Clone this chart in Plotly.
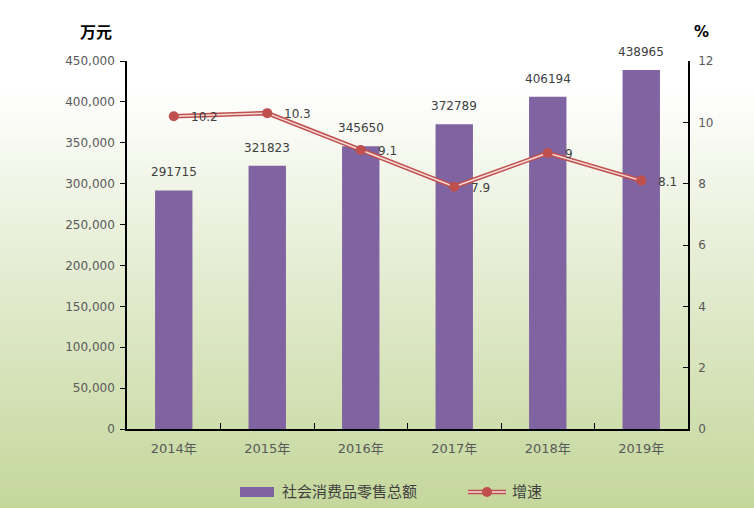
import base64
import plotly.graph_objects as go

years = ["2014年", "2015年", "2016年", "2017年", "2018年", "2019年"]
sales = [291715, 321823, 345650, 372789, 406194, 438965]
growth = [10.2, 10.3, 9.1, 7.9, 9, 8.1]
sales_name = "社会消费品零售总额"
growth_name = "增速"

W, H = 754, 508
ML, MR, MT, MB = 127, 66, 61, 79
PW, PH = W - ML - MR, H - MT - MB

FONT = "DejaVu Sans, Noto Sans CJK SC, sans-serif"
TICK_COLOR = "#595959"
BAR_COLOR = "#8064A2"
LINE_COLOR = "#C0504D"
INNER_COLOR = "#F4DEDD"


def px(x):
    return (x - ML) / PW


def py(y):
    return 1 - (y - MT) / PH


svg = (
    '<svg xmlns="http://www.w3.org/2000/svg" width="754" height="508" preserveAspectRatio="none">'
    '<defs><linearGradient id="g" x1="0" y1="0" x2="0" y2="1">'
    '<stop offset="0" stop-color="#FFFFFF"/>'
    '<stop offset="0.17" stop-color="#FFFFFF"/>'
    '<stop offset="0.6" stop-color="#E0E9CA"/>'
    '<stop offset="1" stop-color="#C4D79B"/>'
    '</linearGradient></defs>'
    '<rect width="754" height="508" fill="url(#g)"/></svg>'
)
bg_src = "data:image/svg+xml;base64," + base64.b64encode(svg.encode()).decode()

fig = go.Figure()
fig.add_trace(go.Bar(
    x=years, y=sales, name=sales_name, marker=dict(color=BAR_COLOR, line=dict(width=0)),
    width=0.4, yaxis="y", showlegend=False,
))
fig.add_trace(go.Scatter(
    x=years, y=growth, name=growth_name, yaxis="y2", mode="lines",
    line=dict(color=LINE_COLOR, width=4.5), showlegend=False,
))
fig.add_trace(go.Scatter(
    x=years, y=growth, yaxis="y2", mode="lines", showlegend=False,
    line=dict(color=INNER_COLOR, width=1.5), hoverinfo="skip",
))
fig.add_trace(go.Scatter(
    x=years, y=growth, yaxis="y2", mode="markers", showlegend=False, name=growth_name,
    marker=dict(color=LINE_COLOR, size=10),
))

annotations = []
for x, v in zip(years, sales):
    annotations.append(dict(x=x, y=v, xref="x", yref="y", text=str(v), showarrow=False,
                            yanchor="middle", yshift=18,
                            font=dict(family=FONT, size=12, color="#404040")))
for x, v in zip(years, growth):
    annotations.append(dict(x=x, y=v, xref="x", yref="y2", text=f"{v:g}", showarrow=False,
                            xanchor="left", xshift=15, yanchor="middle", yshift=-1,
                            font=dict(family=FONT, size=12, color="#404040")))
annotations.append(dict(x=px(96), y=py(33), xref="paper", yref="paper", text="<b>万元</b>",
                        showarrow=False, xanchor="center", yanchor="middle",
                        font=dict(family=FONT, size=16, color="#000000")))
annotations.append(dict(x=px(701), y=py(32), xref="paper", yref="paper",
                        text="<b>%</b>", showarrow=False, xanchor="center", yanchor="middle",
                        font=dict(family=FONT, size=15, color="#000000")))
# custom legend texts
annotations.append(dict(x=px(280), y=py(492), xref="paper", yref="paper", text=sales_name,
                        showarrow=False, xanchor="left", yanchor="middle",
                        font=dict(family=FONT, size=15, color="#404040")))
annotations.append(dict(x=px(510), y=py(492), xref="paper", yref="paper", text=growth_name,
                        showarrow=False, xanchor="left", yanchor="middle",
                        font=dict(family=FONT, size=15, color="#404040")))

shapes = [
    dict(type="rect", xref="paper", yref="paper", x0=px(240), x1=px(274), y0=py(497), y1=py(487),
         fillcolor=BAR_COLOR, line=dict(width=0)),
    dict(type="line", xref="paper", yref="paper", x0=px(468), x1=px(506), y0=py(492), y1=py(492),
         line=dict(color=LINE_COLOR, width=4.5)),
    dict(type="line", xref="paper", yref="paper", x0=px(468), x1=px(506), y0=py(492), y1=py(492),
         line=dict(color=INNER_COLOR, width=1.5)),
    dict(type="circle", xref="paper", yref="paper", x0=px(482), x1=px(492), y0=py(497), y1=py(487),
         fillcolor=LINE_COLOR, line=dict(width=0)),
]

fig.update_layout(
    width=W, height=H,
    margin=dict(l=ML, r=MR, t=MT, b=MB, autoexpand=False),
    paper_bgcolor="rgba(0,0,0,0)", plot_bgcolor="rgba(0,0,0,0)",
    font=dict(family=FONT, size=12, color=TICK_COLOR),
    showlegend=False,
    xaxis=dict(showline=True, linecolor="#000000", linewidth=1.5, ticks="inside", ticklen=6,
               tickcolor="#000000", tickson="boundaries", showgrid=False, automargin=False,
               ticklabelstandoff=7,
               tickfont=dict(family=FONT, size=13, color=TICK_COLOR)),
    yaxis=dict(range=[0, 450000], dtick=50000, tickformat=",", showline=True, linecolor="#000000",
               linewidth=1.5, ticks="outside", ticklen=5, tickcolor="#000000", showgrid=False,
               zeroline=False, automargin=False, ticklabelstandoff=3,
               tickfont=dict(family=FONT, size=12, color=TICK_COLOR)),
    yaxis2=dict(range=[0, 12], dtick=2, overlaying="y", side="right", showline=True,
                linecolor="#000000", linewidth=1.5, ticks="inside", ticklen=5, tickcolor="#000000",
                showgrid=False, zeroline=False, automargin=False, ticklabelstandoff=6,
                tickfont=dict(family=FONT, size=12, color=TICK_COLOR)),
    annotations=annotations,
    shapes=shapes,
    images=[dict(source=bg_src, xref="paper", yref="paper", x=-ML / PW, y=1 + MT / PH,
                 sizex=W / PW, sizey=H / PH, xanchor="left", yanchor="top",
                 sizing="stretch", layer="below")],
)

fig.write_html("out.html")
